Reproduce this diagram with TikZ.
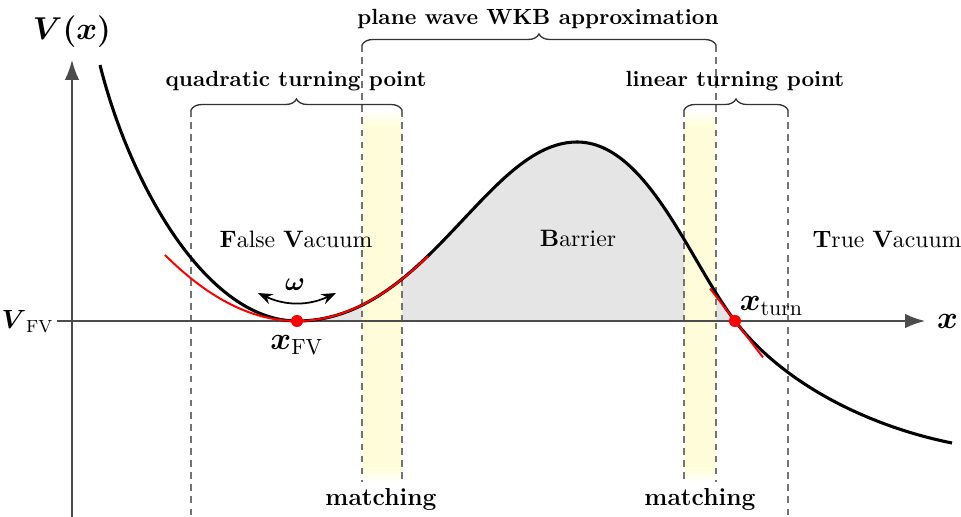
\documentclass[tikz,border=0pt]{standalone}
\usepackage{amsmath}
\usepackage{amssymb}
\usetikzlibrary{arrows.meta, positioning, calc, decorations.pathreplacing}

\begin{document}
\begin{tikzpicture}[
		x=0.016cm, y=0.016cm,
		>=Stealth,
		axis/.style={-{Latex[length=9pt, width=6.5pt]}, line width=0.7pt, black!70},
		potential/.style={line width=1.4pt, black},
		approx/.style={line width=0.9pt, red},
		guide/.style={black!55, line width=0.5pt, dash pattern=on 3pt off 2.5pt},
		band/.style={fill=yellow!15, draw=none},
		brace/.style={decorate, decoration={brace, amplitude=5pt}, line width=0.6pt, black!80},
		bracelab/.style={font=\bfseries, anchor=base},
		matchlab/.style={font=\fontsize{11.2}{13}\selectfont\bfseries, anchor=base},
		region/.style={font=\fontsize{10.8}{13}\selectfont, anchor=base},
		dot/.style={circle, fill=red, inner sep=0pt, minimum size=5.5pt},
	]
		\useasboundingbox (-72,-196) rectangle (889,321);

		% Barrier region
		\fill[gray!20] (225,0) .. controls (355,0) and (415,179) .. (505,179)
			.. controls (575,179) and (618,58.5) .. (663,0) -- cycle;

		% Matching bands
		\foreach \xa/\xb in {290/330, 612/644} {
			\fill[band] (\xa,194) rectangle (\xb,-146);
			\shade[top color=white, bottom color=yellow!15] (\xa,211) rectangle (\xb,194);
			\shade[top color=yellow!15, bottom color=white] (\xa,-146) rectangle (\xb,-161);
		}

		% Dashed guides
		\draw[guide] (119,211) -- (119,-196);
		\draw[guide] (290,276) -- (290,-161);
		\draw[guide] (330,211) -- (330,-161);
		\draw[guide] (612,211) -- (612,-161);
		\draw[guide] (644,276) -- (644,-161);
		\draw[guide] (716,211) -- (716,-196);

		% Axes
		\coordinate (origin) at (0,0);
		\coordinate (vfv) at (-15,0);
		\coordinate (xend) at (853,0);
		\coordinate (ybot) at (0,-196);
		\coordinate (yend) at (0,261);
		\draw[axis] (vfv) -- (xend);
		\draw[axis] (ybot) -- (yend);

		% Potential
		\draw[potential] (28,256) .. controls (58,136) and (135,0) .. (225,0)
			.. controls (355,0) and (415,179) .. (505,179)
			.. controls (575,179) and (618,58.5) .. (663,0)
			.. controls (713,-65) and (800,-106) .. (880,-122);

		% Quadratic and linear approximations
		\draw[approx] plot[domain=93:356, samples=60] (\x, {37.9*((\x-225)/100)^2});
		\draw[approx] (638,32.5) -- (691,-36.4);

		% Points
		\node[dot] (fv) at (225,0) {};
		\node[dot] (turn) at (663,0) {};

		% Oscillation arrow
		\coordinate (wl) at (186,28);
		\coordinate (wr) at (264,28);
		\draw[<->, line width=0.8pt] (wl) to[bend right=25] (wr);
		\node[font=\large] (omega) at (223,36) {$\boldsymbol{\omega}$};

		% Braces
		\draw[brace] (290,276) -- (644,276);
		\draw[brace] (119,211) -- (330,211);
		\draw[brace] (612,211) -- (716,211);
		\node[bracelab] (wkb) at (466,296) {plane wave WKB approximation};
		\node[bracelab] (quad) at (224,234) {quadratic turning point};
		\node[bracelab] (lin) at (663,234) {linear turning point};

		% Labels
		\node[font=\Large, anchor=base] (vlab) at (0,281) {$\boldsymbol{V(x)}$};
		\node[font=\Large, right=2pt of xend] (xlab) {$\boldsymbol{x}$};
		\node[font=\large, left=-2pt of vfv] (vfvlab) {$\boldsymbol{V}_{\mathrm{FV}}$};
		\node[font=\Large, below=0pt of fv] (xfvlab) {$\boldsymbol{x}_{\mathrm{FV}}$};
		\node[font=\Large, anchor=south west] (xturnlab) at (660,-2) {$\boldsymbol{x}_{\mathrm{turn}}$};
		\node[region] (fvlab) at (224,74) {\textbf{F}alse \textbf{V}acuum};
		\node[region] (barlab) at (506,75) {\textbf{B}arrier};
		\node[region] (tvlab) at (815,74) {\textbf{T}rue \textbf{V}acuum};
		\node[matchlab] (match1) at (309,-184) {matching};
		\node[matchlab] (match2) at (628,-184) {matching};
	\end{tikzpicture}
\end{document}
